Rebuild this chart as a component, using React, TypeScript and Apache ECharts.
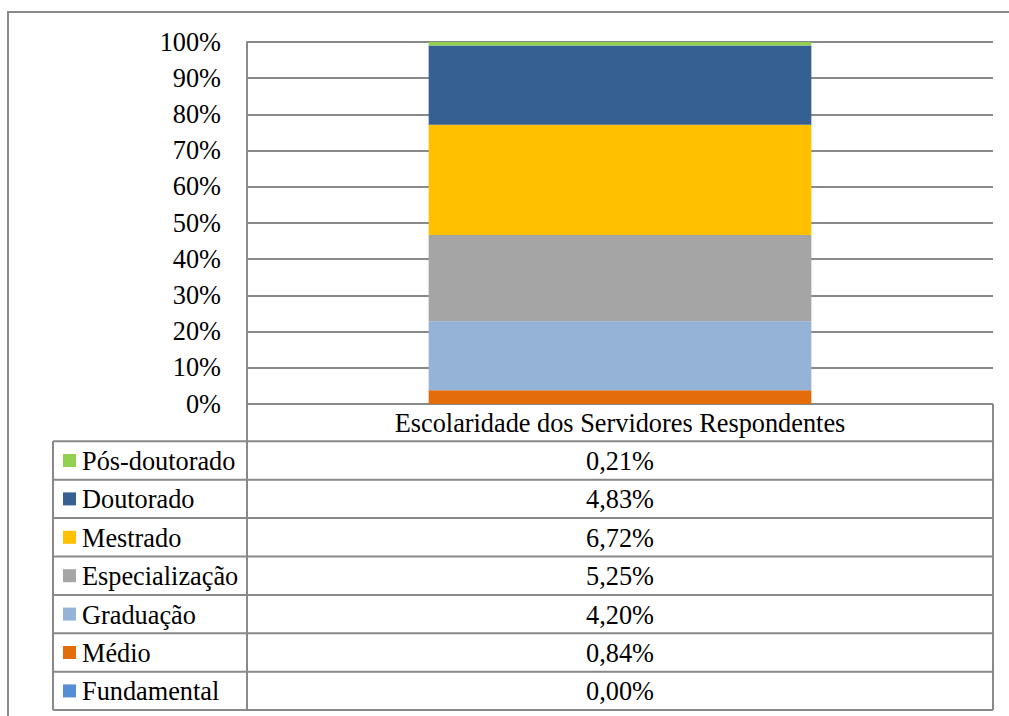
import React, { useEffect, useRef } from "react";
import * as echarts from "echarts";

const categories = ["Escolaridade dos Servidores Respondentes"];
const seriesNames = ["Fundamental", "Médio", "Graduação", "Especialização", "Mestrado", "Doutorado", "Pós-doutorado"];
const seriesValues = [0.0, 0.84, 4.2, 5.25, 6.72, 4.83, 0.21];
const seriesColors = ["#558ED5", "#E46C0A", "#95B3D7", "#A5A5A5", "#FFC000", "#376092", "#92D050"];
const yMin = 0;
const yMax = 100;
const yStep = 10;

const FONT = "Liberation Serif";
const FS = 26.3;
const LINE = "#898989";

export default function App() {
  const ref = useRef<HTMLDivElement>(null);
  useEffect(() => {
    if (!ref.current) return;
    const chart = echarts.init(ref.current, undefined, { renderer: "svg" });
    const total = seriesValues.reduce((a, b) => a + b, 0);

    const plotLeft = 247;
    const plotRight = 993;
    const axisBottom = 404;
    const tableTop = 441.3;
    const rowH = 38.4;
    const tableLeft = 53;
    const nRows = seriesNames.length;
    const tableBottom = tableTop + nRows * rowH;

    const g: any[] = [];
    const ln = (x1: number, y1: number, x2: number, y2: number) =>
      g.push({ type: "line", shape: { x1, y1, x2, y2 }, style: { stroke: LINE, lineWidth: 2 }, silent: true });

    // outer border
    g.push({ type: "rect", shape: { x: 8, y: 12, width: 1010, height: 720 }, style: { fill: "none", stroke: LINE, lineWidth: 2 }, silent: true });

    // table lines
    ln(plotLeft, axisBottom, plotLeft, tableBottom);
    ln(plotRight, axisBottom, plotRight, tableBottom);
    ln(tableLeft, tableTop, tableLeft, tableBottom);
    for (let i = 0; i <= nRows; i++) {
      const y = tableTop + i * rowH;
      ln(tableLeft, y, plotRight, y);
    }
    const cx = (plotLeft + plotRight) / 2;
    g.push({
      type: "text",
      x: cx,
      y: (axisBottom + tableTop) / 2 + 1,
      style: { text: categories[0], fontFamily: FONT, fontSize: FS, fill: "#000", align: "center", verticalAlign: "middle" },
    });
    const order = seriesNames.map((_, i) => i).reverse();
    order.forEach((si, r) => {
      const cy = tableTop + r * rowH + rowH / 2;
      g.push({ type: "rect", shape: { x: 63, y: cy - 6.5, width: 13, height: 13 }, style: { fill: seriesColors[si] }, silent: true });
      g.push({
        type: "text",
        x: 82,
        y: cy + 1,
        style: { text: seriesNames[si], fontFamily: FONT, fontSize: FS, fill: "#000", align: "left", verticalAlign: "middle" },
      });
      g.push({
        type: "text",
        x: cx,
        y: cy + 1,
        style: {
          text: seriesValues[si].toFixed(2).replace(".", ",") + "%",
          fontFamily: FONT,
          fontSize: FS,
          fill: "#000",
          align: "center",
          verticalAlign: "middle",
        },
      });
    });

    chart.setOption({
      animation: false,
      backgroundColor: "#fff",
      textStyle: { fontFamily: FONT, fontSize: FS, color: "#000" },
      grid: { left: plotLeft, right: 1009 - plotRight, top: 42, bottom: 716 - axisBottom },
      xAxis: {
        type: "category",
        data: categories,
        axisLine: { show: false },
        axisTick: { show: false },
        axisLabel: { show: false },
      },
      yAxis: {
        type: "value",
        min: yMin,
        max: yMax,
        interval: yStep,
        axisLine: { show: true, lineStyle: { color: LINE, width: 2 } },
        axisTick: { show: false },
        splitLine: { show: true, lineStyle: { color: LINE, width: 2 } },
        axisLabel: {
          formatter: (v: number) => "{s|" + v + "%}",
          fontFamily: FONT,
          fontSize: FS,
          color: "#000",
          margin: 26,
          rich: { s: { fontFamily: FONT, fontSize: FS, color: "#000" } },
        },
      },
      series: seriesNames.map((name, i) => ({
        name,
        type: "bar",
        stack: "total",
        barWidth: "51.3%",
        data: [(seriesValues[i] / total) * 100],
        itemStyle: { color: seriesColors[i] },
      })),
      graphic: { elements: g },
    });
    return () => chart.dispose();
  }, []);
  return <div ref={ref} style={{ position: "absolute", left: 0, top: 0, width: 1009, height: 716 }} />;
}
